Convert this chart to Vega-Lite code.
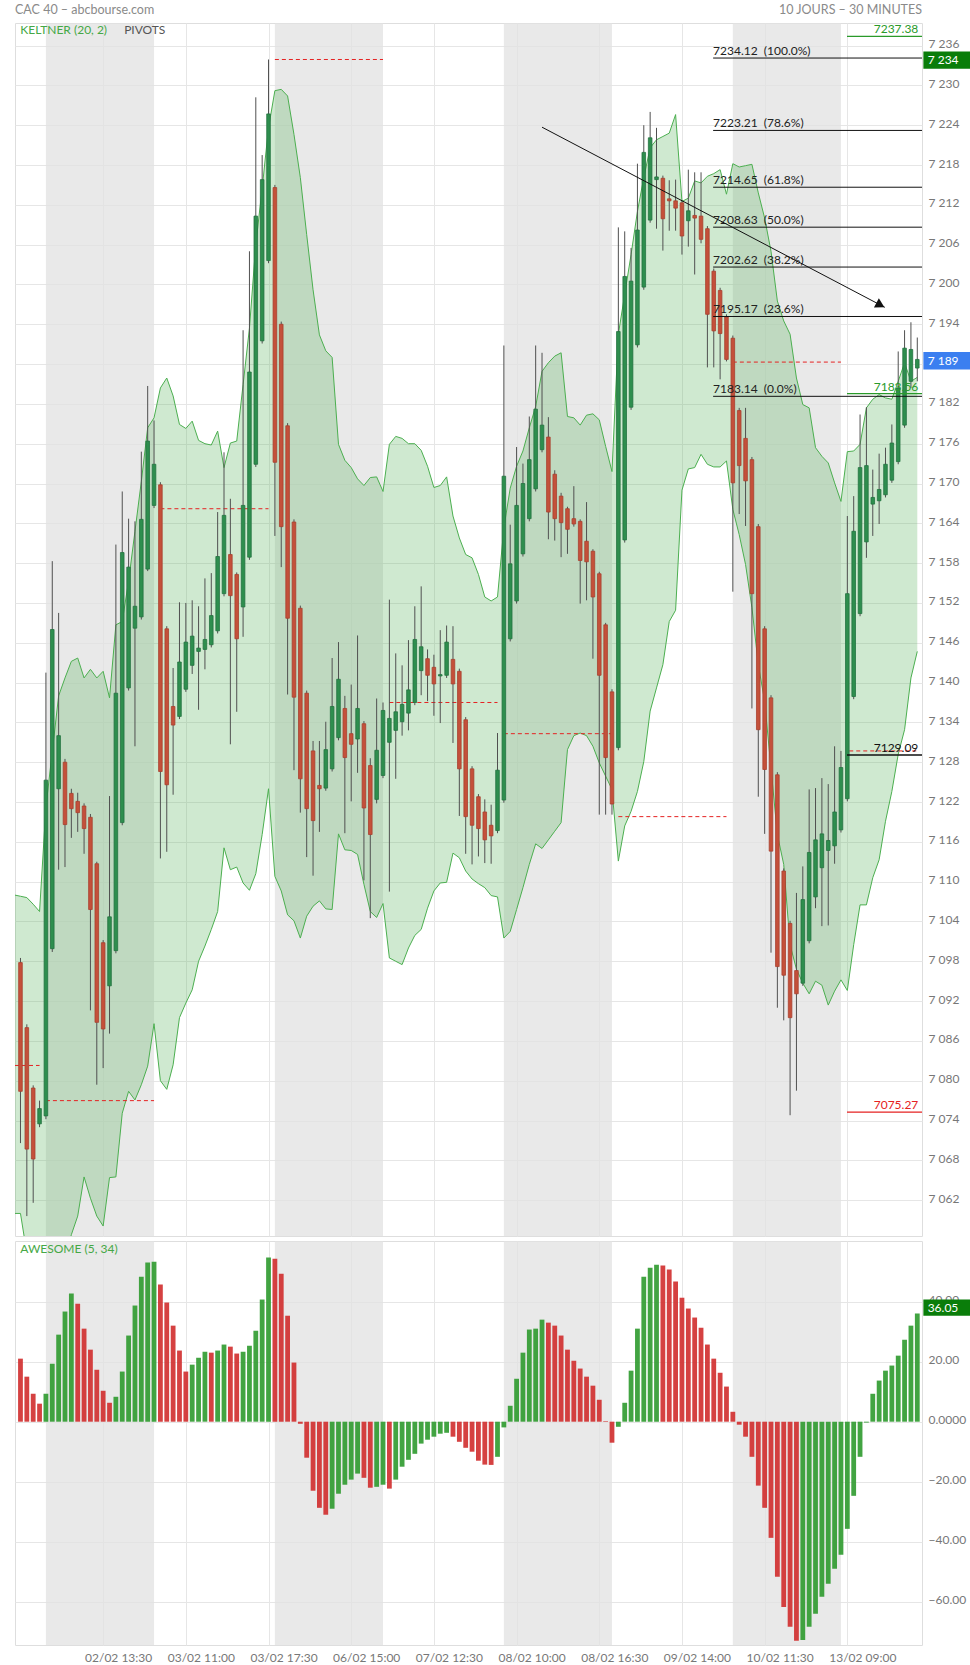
{
"$schema": "https://vega.github.io/schema/vega-lite/v6.json",
"background": "white",
"padding": {"left": 14, "top": 3, "right": 0, "bottom": 0},
"autosize": {"type": "pad"},
"spacing": 3,
"config": {
  "view": {"stroke": "#dedede"},
  "font": "Lato",
  "scale": {"continuousPadding": 0},
  "axis": {"labelFont": "Lato", "labelFontSize": 12, "labelColor": "#777777", "title": null, "ticks": false, "domain": false, "gridColor": "#e6e6e6", "gridWidth": 1, "labelOverlap": false, "labelBound": false, "labelFlush": false}
},
"datasets": {
  "days": [{"s":4,"e":21},{"s":40,"e":57},{"s":76,"e":93},{"s":112,"e":129}],
  "piv": [{"s":-0.86,"e":3,"v":7082.3},{"s":4,"e":21,"v":7077.0},{"s":22,"e":39,"v":7166.2},{"s":40,"e":57,"v":7233.9},{"s":58,"e":75,"v":7137.0},{"s":76,"e":93,"v":7132.3},{"s":94,"e":111,"v":7119.8},{"s":112,"e":129,"v":7188.3},{"s":130.3,"e":141.3,"v":7129.7}],
  "fib": [{"v":7234.12,"t":"7234.12\u00a0\u00a0(100.0%)"},{"v":7223.21,"t":"7223.21\u00a0\u00a0(78.6%)"},{"v":7214.65,"t":"7214.65\u00a0\u00a0(61.8%)"},{"v":7208.63,"t":"7208.63\u00a0\u00a0(50.0%)"},{"v":7202.62,"t":"7202.62\u00a0\u00a0(38.2%)"},{"v":7195.17,"t":"7195.17\u00a0\u00a0(23.6%)"},{"v":7183.14,"t":"7183.14\u00a0\u00a0(0.0%)"}],
  "lv": [{"v":7237.38,"t":"7237.38","k":"haut"},{"v":7183.56,"t":"7183.56","k":"haut"},{"v":7129.09,"t":"7129.09","k":"pivot"},{"v":7075.27,"t":"7075.27","k":"bas"}],
  "tag": [{"v":7233.8,"t":"7 234","k":"fib"},{"v":7188.5,"t":"7 189","k":"last"}],
  "arr": [{"i":82.0,"v":7223.7},{"i":135.9,"v":7196.55}],
  "k": [
{"i":-1,"u":7108,"l":7060},{"i":0,"u":7107.8,"l":7060.0},{"i":1,"u":7107.6,"l":7054},{"i":2,"u":7106.6,"l":7050},{"i":3,"u":7105.5,"l":7047},{"i":4,"u":7121.2,"l":7044},{"i":5,"u":7129.6,"l":7046},{"i":6,"u":7138.0,"l":7049},{"i":7,"u":7140.7,"l":7053},{"i":8,"u":7143.2,"l":7056.8},{"i":9,"u":7143.7,"l":7059.6},
{"i":10,"u":7140.7,"l":7065.5},{"i":11,"u":7142.0,"l":7062.3},{"i":12,"u":7140.7,"l":7059.6},{"i":13,"u":7141.7,"l":7058.1},{"i":14,"u":7137.7,"l":7065.4},{"i":15,"u":7148.7,"l":7065.5},{"i":16,"u":7149.2,"l":7075.1},{"i":17,"u":7155.3,"l":7078.4},{"i":18,"u":7162.8,"l":7077.1},{"i":19,"u":7170.3,"l":7079.4},
{"i":20,"u":7178.4,"l":7082.2},{"i":21,"u":7179.9,"l":7088.6},{"i":22,"u":7184.4,"l":7080.0},{"i":23,"u":7185.9,"l":7078.7},{"i":24,"u":7183.2,"l":7082.4},{"i":25,"u":7178.9,"l":7089.5},{"i":26,"u":7178.3,"l":7091.7},{"i":27,"u":7179.4,"l":7093.7},{"i":28,"u":7176.5,"l":7098.0},{"i":29,"u":7176.0,"l":7100.3},
{"i":30,"u":7175.8,"l":7102.8},{"i":31,"u":7177.9,"l":7105.5},{"i":32,"u":7172.4,"l":7115.1},{"i":33,"u":7176.1,"l":7111.8},{"i":34,"u":7176.4,"l":7112.2},{"i":35,"u":7184.9,"l":7109.8},{"i":36,"u":7193.4,"l":7108.7},{"i":37,"u":7206.0,"l":7111.2},{"i":38,"u":7214.5,"l":7117.1},{"i":39,"u":7223.6,"l":7124.0},
{"i":40,"u":7229.2,"l":7110.8},{"i":41,"u":7229.4,"l":7108.6},{"i":42,"u":7228.4,"l":7105.0},{"i":43,"u":7222.6,"l":7104.1},{"i":44,"u":7216.1,"l":7101.5},{"i":45,"u":7207.5,"l":7104.8},{"i":46,"u":7199.2,"l":7106.3},{"i":47,"u":7192.4,"l":7107.1},{"i":48,"u":7190.0,"l":7105.9},{"i":49,"u":7189.0,"l":7105.8},
{"i":50,"u":7175.9,"l":7117.2},{"i":51,"u":7173.5,"l":7114.8},{"i":52,"u":7172.4,"l":7114.7},{"i":53,"u":7170.7,"l":7114.1},{"i":54,"u":7169.7,"l":7109.6},{"i":55,"u":7170.9,"l":7105.5},{"i":56,"u":7171.0,"l":7104.6},{"i":57,"u":7168.8,"l":7106.7},{"i":58,"u":7175.9,"l":7098.5},{"i":59,"u":7177.1,"l":7098.0},
{"i":60,"u":7176.8,"l":7097.5},{"i":61,"u":7176.0,"l":7100.0},{"i":62,"u":7176.0,"l":7101.9},{"i":63,"u":7175.0,"l":7102.8},{"i":64,"u":7172.6,"l":7106.0},{"i":65,"u":7169.4,"l":7108.6},{"i":66,"u":7169.7,"l":7109.8},{"i":67,"u":7171.0,"l":7109.9},{"i":68,"u":7165.1,"l":7114.3},{"i":69,"u":7161.8,"l":7113.6},
{"i":70,"u":7159.3,"l":7111.6},{"i":71,"u":7158.8,"l":7110.4},{"i":72,"u":7156.3,"l":7109.7},{"i":73,"u":7152.9,"l":7109.1},{"i":74,"u":7152.3,"l":7107.9},{"i":75,"u":7152.9,"l":7107.7},{"i":76,"u":7163.3,"l":7101.5},{"i":77,"u":7169.3,"l":7102.5},{"i":78,"u":7172.6,"l":7105.8},{"i":79,"u":7174.9,"l":7109.1},
{"i":80,"u":7178.4,"l":7112.6},{"i":81,"u":7181.6,"l":7115.7},{"i":82,"u":7186.9,"l":7115.0},{"i":83,"u":7188.2,"l":7116.3},{"i":84,"u":7189.2,"l":7117.6},{"i":85,"u":7189.7,"l":7118.9},{"i":86,"u":7180.1,"l":7129.9},{"i":87,"u":7179.9,"l":7132.0},{"i":88,"u":7178.8,"l":7132.4},{"i":89,"u":7180.3,"l":7132.0},
{"i":90,"u":7180.5,"l":7130.4},{"i":91,"u":7179.6,"l":7127.9},{"i":92,"u":7175.6,"l":7125.9},{"i":93,"u":7171.8,"l":7123.9},{"i":94,"u":7192.5,"l":7113.1},{"i":95,"u":7198.5,"l":7118.4},{"i":96,"u":7204.5,"l":7120.6},{"i":97,"u":7211.0,"l":7123.6},{"i":98,"u":7216.1,"l":7128.1},{"i":99,"u":7220.6,"l":7135.7},
{"i":100,"u":7221.8,"l":7139.2},{"i":101,"u":7222.3,"l":7142.7},{"i":102,"u":7222.8,"l":7149.2},{"i":103,"u":7225.6,"l":7150.9},{"i":104,"u":7212.5,"l":7169.0},{"i":105,"u":7213.0,"l":7172.2},{"i":106,"u":7215.6,"l":7172.4},{"i":107,"u":7215.3,"l":7174.4},{"i":108,"u":7216.3,"l":7172.9},{"i":109,"u":7216.7,"l":7172.5},
{"i":110,"u":7217.3,"l":7172.5},{"i":111,"u":7213.6,"l":7173.4},{"i":112,"u":7218.2,"l":7166.1},{"i":113,"u":7217.7,"l":7162.3},{"i":114,"u":7217.9,"l":7157.8},{"i":115,"u":7218.1,"l":7151.3},{"i":116,"u":7213.8,"l":7142.7},{"i":117,"u":7210.0,"l":7137.2},{"i":118,"u":7205.0,"l":7127.1},{"i":119,"u":7197.5,"l":7117.1},
{"i":120,"u":7194.5,"l":7112.6},{"i":121,"u":7192.5,"l":7100.5},{"i":122,"u":7185.9,"l":7096.8},{"i":123,"u":7181.9,"l":7094.7},{"i":124,"u":7181.4,"l":7093.1},{"i":125,"u":7175.4,"l":7095.0},{"i":126,"u":7174.1,"l":7094.4},{"i":127,"u":7173.1,"l":7091.4},{"i":128,"u":7170.1,"l":7093.5},{"i":129,"u":7167.3,"l":7095.2},
{"i":130,"u":7174.8,"l":7093.6},{"i":131,"u":7174.9,"l":7100.5},{"i":132,"u":7175.9,"l":7106.5},{"i":133,"u":7181.4,"l":7106.5},{"i":134,"u":7182.7,"l":7110.6},{"i":135,"u":7183.4,"l":7113.3},{"i":136,"u":7182.9,"l":7119.1},{"i":137,"u":7182.7,"l":7123.6},{"i":138,"u":7185.4,"l":7129.2},{"i":139,"u":7188.2,"l":7132.9},
{"i":140,"u":7185.4,"l":7140.7},{"i":141,"u":7186.0,"l":7144.7}
  ],
  "c": [
{"i":0,"o":7097.8,"h":7098.5,"l":7070.6,"c":7078.4},{"i":1,"o":7088.0,"h":7088.5,"l":7059.6,"c":7069.7},{"i":2,"o":7078.9,"h":7079.3,"l":7061.6,"c":7068.2},{"i":3,"o":7073.5,"h":7077.0,"l":7073.0,"c":7075.8},{"i":4,"o":7074.7,"h":7141.5,"l":7074.2,"c":7125.3},
{"i":5,"o":7099.9,"h":7158.3,"l":7099.4,"c":7148.0},{"i":6,"o":7124.0,"h":7150.5,"l":7111.8,"c":7132.0},{"i":7,"o":7128.0,"h":7128.5,"l":7112.2,"c":7118.6},{"i":8,"o":7123.3,"h":7124.0,"l":7116.6,"c":7121.0},{"i":9,"o":7122.1,"h":7123.4,"l":7117.5,"c":7120.4},
{"i":10,"o":7121.4,"h":7121.8,"l":7114.2,"c":7118.0},{"i":11,"o":7119.7,"h":7120.2,"l":7090.6,"c":7105.8},{"i":12,"o":7112.7,"h":7113.0,"l":7079.4,"c":7088.8},{"i":13,"o":7100.8,"h":7101.2,"l":7081.9,"c":7087.8},{"i":14,"o":7094.3,"h":7122.9,"l":7087.1,"c":7104.7},
{"i":15,"o":7099.6,"h":7160.8,"l":7099.2,"c":7138.4},{"i":16,"o":7118.9,"h":7168.8,"l":7118.5,"c":7159.6},{"i":17,"o":7139.2,"h":7164.7,"l":7138.8,"c":7157.4},{"i":18,"o":7148.2,"h":7164.3,"l":7130.4,"c":7151.5},{"i":19,"o":7149.9,"h":7174.8,"l":7149.5,"c":7164.6},
{"i":20,"o":7157.1,"h":7184.7,"l":7156.8,"c":7176.4},{"i":21,"o":7166.7,"h":7179.5,"l":7166.3,"c":7172.9},{"i":22,"o":7169.8,"h":7170.2,"l":7113.5,"c":7126.6},{"i":23,"o":7148.1,"h":7148.5,"l":7114.5,"c":7124.6},{"i":24,"o":7136.4,"h":7142.2,"l":7123.1,"c":7133.6},
{"i":25,"o":7134.9,"h":7152.1,"l":7134.5,"c":7143.1},{"i":26,"o":7139.0,"h":7152.0,"l":7138.6,"c":7146.1},{"i":27,"o":7142.6,"h":7152.4,"l":7141.3,"c":7147.0},{"i":28,"o":7144.7,"h":7151.5,"l":7135.9,"c":7145.2},{"i":29,"o":7145.0,"h":7155.7,"l":7142.0,"c":7146.5},
{"i":30,"o":7145.7,"h":7156.5,"l":7145.3,"c":7150.1},{"i":31,"o":7147.8,"h":7165.7,"l":7147.4,"c":7159.0},{"i":32,"o":7153.4,"h":7174.7,"l":7153.0,"c":7165.2},{"i":33,"o":7159.3,"h":7167.7,"l":7130.7,"c":7153.1},{"i":34,"o":7156.3,"h":7156.6,"l":7135.6,"c":7146.6},
{"i":35,"o":7151.4,"h":7193.1,"l":7146.9,"c":7166.7},{"i":36,"o":7158.9,"h":7205.0,"l":7158.5,"c":7186.8},{"i":37,"o":7172.9,"h":7228.2,"l":7172.5,"c":7210.3},{"i":38,"o":7191.5,"h":7219.5,"l":7191.1,"c":7215.8},{"i":39,"o":7203.6,"h":7233.9,"l":7203.2,"c":7225.7},
{"i":40,"o":7214.6,"h":7215.0,"l":7162.1,"c":7173.2},{"i":41,"o":7194.0,"h":7194.4,"l":7157.4,"c":7163.5},{"i":42,"o":7178.7,"h":7179.1,"l":7138.2,"c":7149.7},{"i":43,"o":7164.2,"h":7164.6,"l":7126.8,"c":7137.8},{"i":44,"o":7151.2,"h":7151.6,"l":7120.4,"c":7125.5},
{"i":45,"o":7138.4,"h":7138.8,"l":7113.7,"c":7121.0},{"i":46,"o":7129.7,"h":7131.2,"l":7110.9,"c":7119.2},{"i":47,"o":7124.5,"h":7131.2,"l":7117.5,"c":7124.0},{"i":48,"o":7124.1,"h":7134.1,"l":7123.7,"c":7129.9},{"i":49,"o":7127.0,"h":7143.7,"l":7126.6,"c":7136.4},
{"i":50,"o":7131.7,"h":7146.1,"l":7131.3,"c":7140.5},{"i":51,"o":7136.1,"h":7138.0,"l":7117.3,"c":7128.7},{"i":52,"o":7132.3,"h":7139.7,"l":7122.1,"c":7130.7},{"i":53,"o":7131.5,"h":7147.1,"l":7126.4,"c":7136.1},{"i":54,"o":7133.8,"h":7134.2,"l":7110.2,"c":7121.1},
{"i":55,"o":7127.5,"h":7128.6,"l":7104.5,"c":7117.1},{"i":56,"o":7122.4,"h":7137.6,"l":7121.8,"c":7129.8},{"i":57,"o":7126.0,"h":7137.0,"l":7125.6,"c":7135.8},{"i":58,"o":7131.0,"h":7152.5,"l":7108.5,"c":7134.6},{"i":59,"o":7132.8,"h":7144.4,"l":7125.5,"c":7135.6},
{"i":60,"o":7134.1,"h":7142.6,"l":7132.0,"c":7136.7},{"i":61,"o":7135.4,"h":7146.4,"l":7132.8,"c":7138.9},{"i":62,"o":7137.0,"h":7151.5,"l":7136.6,"c":7146.5},{"i":63,"o":7141.8,"h":7154.5,"l":7138.1,"c":7145.4},{"i":64,"o":7143.6,"h":7145.0,"l":7137.2,"c":7141.1},
{"i":65,"o":7142.3,"h":7144.2,"l":7135.0,"c":7139.8},{"i":66,"o":7141.0,"h":7147.9,"l":7133.9,"c":7141.2},{"i":67,"o":7141.1,"h":7148.6,"l":7140.7,"c":7146.1},{"i":68,"o":7143.5,"h":7148.5,"l":7130.9,"c":7139.8},{"i":69,"o":7141.7,"h":7142.1,"l":7119.9,"c":7127.0},
{"i":70,"o":7134.4,"h":7134.8,"l":7114.2,"c":7119.8},{"i":71,"o":7127.0,"h":7127.4,"l":7112.6,"c":7118.5},{"i":72,"o":7122.8,"h":7123.2,"l":7113.8,"c":7118.0},{"i":73,"o":7120.5,"h":7122.4,"l":7112.8,"c":7116.3},{"i":74,"o":7118.5,"h":7121.6,"l":7112.7,"c":7116.9},
{"i":75,"o":7117.7,"h":7132.4,"l":7117.3,"c":7126.8},{"i":76,"o":7122.3,"h":7190.8,"l":7121.9,"c":7171.1},{"i":77,"o":7146.6,"h":7163.8,"l":7146.2,"c":7157.9},{"i":78,"o":7152.3,"h":7175.5,"l":7151.9,"c":7166.7},{"i":79,"o":7159.4,"h":7173.0,"l":7159.0,"c":7170.0},
{"i":80,"o":7164.7,"h":7180.1,"l":7164.3,"c":7173.6},{"i":81,"o":7169.2,"h":7190.8,"l":7168.8,"c":7181.2},{"i":82,"o":7175.1,"h":7189.7,"l":7174.7,"c":7178.8},{"i":83,"o":7177.0,"h":7180.0,"l":7161.6,"c":7165.7},{"i":84,"o":7171.4,"h":7172.0,"l":7161.4,"c":7164.7},
{"i":85,"o":7168.1,"h":7168.6,"l":7158.9,"c":7164.1},{"i":86,"o":7166.2,"h":7166.5,"l":7159.4,"c":7163.1},{"i":87,"o":7164.7,"h":7169.6,"l":7163.5,"c":7163.9},{"i":88,"o":7164.3,"h":7164.6,"l":7151.9,"c":7158.4},{"i":89,"o":7161.3,"h":7167.2,"l":7152.4,"c":7158.2},
{"i":90,"o":7159.8,"h":7160.1,"l":7143.6,"c":7152.9},{"i":91,"o":7156.4,"h":7156.7,"l":7120.1,"c":7141.1},{"i":92,"o":7148.7,"h":7149.0,"l":7120.1,"c":7128.7},{"i":93,"o":7138.6,"h":7139.0,"l":7120.1,"c":7121.7},{"i":94,"o":7130.2,"h":7208.6,"l":7129.8,"c":7192.9},
{"i":95,"o":7161.5,"h":7208.0,"l":7161.1,"c":7201.2},{"i":96,"o":7181.5,"h":7205.5,"l":7181.1,"c":7200.5},{"i":97,"o":7190.9,"h":7218.2,"l":7190.5,"c":7208.2},{"i":98,"o":7199.6,"h":7224.0,"l":7199.2,"c":7219.9},{"i":99,"o":7209.7,"h":7226.0,"l":7209.3,"c":7222.1},
{"i":100,"o":7215.8,"h":7223.6,"l":7208.4,"c":7216.2},{"i":101,"o":7216.0,"h":7216.4,"l":7205.1,"c":7209.9},{"i":102,"o":7212.9,"h":7215.7,"l":7208.1,"c":7212.6},{"i":103,"o":7212.6,"h":7215.8,"l":7208.1,"c":7211.5},{"i":104,"o":7212.3,"h":7212.7,"l":7204.5,"c":7207.3},
{"i":105,"o":7209.6,"h":7217.3,"l":7205.7,"c":7211.1},{"i":106,"o":7210.4,"h":7216.9,"l":7201.5,"c":7210.0},{"i":107,"o":7210.3,"h":7216.9,"l":7206.2,"c":7206.8},{"i":108,"o":7208.4,"h":7208.8,"l":7187.5,"c":7195.5},{"i":109,"o":7202.0,"h":7202.4,"l":7187.5,"c":7193.0},
{"i":110,"o":7199.1,"h":7199.5,"l":7185.7,"c":7192.6},{"i":111,"o":7195.1,"h":7195.5,"l":7188.4,"c":7188.7},{"i":112,"o":7191.9,"h":7192.3,"l":7153.7,"c":7170.1},{"i":113,"o":7181.0,"h":7181.4,"l":7165.4,"c":7172.7},{"i":114,"o":7176.8,"h":7181.4,"l":7163.6,"c":7170.4},
{"i":115,"o":7173.6,"h":7174.0,"l":7136.1,"c":7153.4},{"i":116,"o":7163.5,"h":7163.9,"l":7122.8,"c":7132.9},{"i":117,"o":7148.1,"h":7148.5,"l":7117.2,"c":7126.9},{"i":118,"o":7137.7,"h":7138.1,"l":7099.3,"c":7114.6},{"i":119,"o":7126.1,"h":7126.5,"l":7091.0,"c":7097.2},
{"i":120,"o":7111.6,"h":7112.0,"l":7089.1,"c":7095.9},{"i":121,"o":7103.7,"h":7104.1,"l":7074.8,"c":7089.5},{"i":122,"o":7096.6,"h":7108.3,"l":7078.5,"c":7093.1},{"i":123,"o":7094.7,"h":7112.3,"l":7094.3,"c":7107.3},{"i":124,"o":7101.1,"h":7123.9,"l":7100.7,"c":7114.4},
{"i":125,"o":7107.7,"h":7124.1,"l":7106.0,"c":7116.3},{"i":126,"o":7112.1,"h":7125.6,"l":7103.3,"c":7117.2},{"i":127,"o":7114.7,"h":7124.7,"l":7103.4,"c":7116.2},{"i":128,"o":7115.4,"h":7130.4,"l":7112.7,"c":7120.5},{"i":129,"o":7117.8,"h":7129.7,"l":7117.4,"c":7127.2},
{"i":130,"o":7122.5,"h":7165.1,"l":7122.1,"c":7153.4},{"i":131,"o":7137.9,"h":7168.1,"l":7137.5,"c":7162.8},{"i":132,"o":7150.4,"h":7180.4,"l":7150.0,"c":7172.4},{"i":133,"o":7161.2,"h":7181.5,"l":7158.8,"c":7172.7},{"i":134,"o":7166.9,"h":7172.1,"l":7162.1,"c":7167.9},
{"i":135,"o":7167.4,"h":7174.5,"l":7163.9,"c":7169.1},{"i":136,"o":7168.3,"h":7175.4,"l":7167.9,"c":7172.9},{"i":137,"o":7170.5,"h":7178.9,"l":7170.1,"c":7176.1},{"i":138,"o":7173.3,"h":7189.9,"l":7172.9,"c":7184.4},{"i":139,"o":7178.8,"h":7193.1,"l":7178.4,"c":7190.4},
{"i":140,"o":7185.4,"h":7194.3,"l":7184.4,"c":7190.2},{"i":141,"o":7187.4,"h":7192.0,"l":7185.4,"c":7188.7}
  ],
  "ao": [
{"i":0,"a":21.0},{"i":1,"a":15.0},{"i":2,"a":9.3},{"i":3,"a":6.0},{"i":4,"a":9.3},{"i":5,"a":19.3},{"i":6,"a":29.0},{"i":7,"a":36.7},{"i":8,"a":42.7},{"i":9,"a":39.3},
{"i":10,"a":31.0},{"i":11,"a":24.0},{"i":12,"a":17.3},{"i":13,"a":10.3},{"i":14,"a":6.3},{"i":15,"a":8.3},{"i":16,"a":16.7},{"i":17,"a":28.7},{"i":18,"a":38.7},{"i":19,"a":48.3},
{"i":20,"a":53.0},{"i":21,"a":53.3},{"i":22,"a":45.7},{"i":23,"a":39.7},{"i":24,"a":32.0},{"i":25,"a":23.7},{"i":26,"a":16.7},{"i":27,"a":19.0},{"i":28,"a":21.3},{"i":29,"a":23.3},
{"i":30,"a":23.0},{"i":31,"a":23.7},{"i":32,"a":25.7},{"i":33,"a":25.0},{"i":34,"a":22.7},{"i":35,"a":23.3},{"i":36,"a":25.3},{"i":37,"a":30.3},{"i":38,"a":40.7},{"i":39,"a":54.7},
{"i":40,"a":54.3},{"i":41,"a":49.3},{"i":42,"a":35.3},{"i":43,"a":19.7},{"i":44,"a":-0.7},{"i":45,"a":-12.0},{"i":46,"a":-23.0},{"i":47,"a":-28.7},{"i":48,"a":-31.0},{"i":49,"a":-29.0},
{"i":50,"a":-24.0},{"i":51,"a":-21.0},{"i":52,"a":-19.3},{"i":53,"a":-17.3},{"i":54,"a":-18.7},{"i":55,"a":-22.0},{"i":56,"a":-21.7},{"i":57,"a":-21.0},{"i":58,"a":-22.3},{"i":59,"a":-19.3},
{"i":60,"a":-15.0},{"i":61,"a":-12.7},{"i":62,"a":-10.7},{"i":63,"a":-7.3},{"i":64,"a":-6.0},{"i":65,"a":-5.0},{"i":66,"a":-4.0},{"i":67,"a":-3.7},{"i":68,"a":-5.0},{"i":69,"a":-6.7},
{"i":70,"a":-8.7},{"i":71,"a":-10.0},{"i":72,"a":-13.0},{"i":73,"a":-14.3},{"i":74,"a":-14.4},{"i":75,"a":-11.7},{"i":76,"a":-1.9},{"i":77,"a":5.3},{"i":78,"a":14.3},{"i":79,"a":23.0},
{"i":80,"a":30.7},{"i":81,"a":31.0},{"i":82,"a":34.0},{"i":83,"a":33.0},{"i":84,"a":32.0},{"i":85,"a":28.7},{"i":86,"a":24.0},{"i":87,"a":20.3},{"i":88,"a":17.7},{"i":89,"a":15.0},
{"i":90,"a":12.0},{"i":91,"a":7.3},{"i":92,"a":0.2},{"i":93,"a":-7.0},{"i":94,"a":-1.7},{"i":95,"a":6.3},{"i":96,"a":17.0},{"i":97,"a":31.0},{"i":98,"a":48.3},{"i":99,"a":51.3},
{"i":100,"a":52.3},{"i":101,"a":52.0},{"i":102,"a":50.7},{"i":103,"a":46.7},{"i":104,"a":41.3},{"i":105,"a":37.7},{"i":106,"a":34.7},{"i":107,"a":31.3},{"i":108,"a":25.7},{"i":109,"a":21.0},
{"i":110,"a":16.3},{"i":111,"a":11.7},{"i":112,"a":3.3},{"i":113,"a":-1.0},{"i":114,"a":-5.0},{"i":115,"a":-11.7},{"i":116,"a":-21.3},{"i":117,"a":-28.7},{"i":118,"a":-38.7},{"i":119,"a":-51.7},
{"i":120,"a":-61.7},{"i":121,"a":-68.3},{"i":122,"a":-73.0},{"i":123,"a":-72.7},{"i":124,"a":-68.3},{"i":125,"a":-64.0},{"i":126,"a":-58.3},{"i":127,"a":-54.0},{"i":128,"a":-49.0},{"i":129,"a":-44.3},
{"i":130,"a":-35.7},{"i":131,"a":-24.7},{"i":132,"a":-11.7},{"i":133,"a":-0.3},{"i":134,"a":9.3},{"i":135,"a":13.7},{"i":136,"a":17.0},{"i":137,"a":18.7},{"i":138,"a":22.0},{"i":139,"a":27.3},
{"i":140,"a":32.0},{"i":141,"a":36.05}
  ]
},
"vconcat": [
{
  "width": 907, "height": 1213,
  "resolve": {"scale": {"color": "independent"}},
  "layer": [
    {"data": {"name": "days"}, "mark": {"type": "rect", "color": "#e2e2e2", "opacity": 0.75},
     "encoding": {
       "x": {"field": "s", "type": "quantitative", "scale": {"domain": [-0.86, 141.74], "nice": false, "zero": false, "padding": 0},
             "axis": {"values": [13,26,39,52,65,78,91,104,117,130], "labels": false, "grid": true}},
       "x2": {"field": "e"}}},
    {"data": {"name": "k"}, "mark": {"type": "area", "color": "#4caf50", "opacity": 0.27, "clip": true},
     "encoding": {
       "x": {"field": "i", "type": "quantitative", "scale": {"domain": [-0.86, 141.74], "nice": false, "zero": false, "padding": 0}},
       "y": {"field": "u", "type": "quantitative", "scale": {"domain": [7056.6, 7239.4], "nice": false, "zero": false},
             "axis": {"orient": "right", "grid": true, "labelPadding": 6, "labelOffset": -2,
                      "values": [7062,7068,7074,7080,7086,7092,7098,7104,7110,7116,7122,7128,7134,7140,7146,7152,7158,7164,7170,7176,7182,7188,7194,7200,7206,7212,7218,7224,7230,7236],
                      "labelExpr": "datum.value == 7188 ? '' : replace(format(datum.value, ','), ',', ' ')"}},
       "y2": {"field": "l"}}},
    {"data": {"name": "k"}, "mark": {"type": "line", "color": "#4caf50", "strokeWidth": 1, "clip": true},
     "encoding": {"x": {"field": "i", "type": "quantitative", "scale": {"domain": [-0.86, 141.74], "nice": false, "zero": false, "padding": 0}},
                  "y": {"field": "u", "type": "quantitative", "scale": {"domain": [7056.6, 7239.4], "nice": false, "zero": false}}}},
    {"data": {"name": "k"}, "mark": {"type": "line", "color": "#4caf50", "strokeWidth": 1, "clip": true},
     "encoding": {"x": {"field": "i", "type": "quantitative", "scale": {"domain": [-0.86, 141.74], "nice": false, "zero": false, "padding": 0}},
                  "y": {"field": "l", "type": "quantitative", "scale": {"domain": [7056.6, 7239.4], "nice": false, "zero": false}}}},
    {"data": {"name": "piv"}, "mark": {"type": "rule", "color": "#e52222", "strokeWidth": 1, "strokeDash": [4, 3]},
     "encoding": {"x": {"field": "s", "type": "quantitative", "scale": {"domain": [-0.86, 141.74], "nice": false, "zero": false, "padding": 0}},
                  "x2": {"field": "e"},
                  "y": {"field": "v", "type": "quantitative", "scale": {"domain": [7056.6, 7239.4], "nice": false, "zero": false}}}},
    {"data": {"name": "c"}, "mark": {"type": "rule", "color": "#505050", "strokeWidth": 1},
     "encoding": {"x": {"field": "i", "type": "quantitative", "scale": {"domain": [-0.86, 141.74], "nice": false, "zero": false, "padding": 0}},
                  "y": {"field": "l", "type": "quantitative", "scale": {"domain": [7056.6, 7239.4], "nice": false, "zero": false}},
                  "y2": {"field": "h"}}},
    {"data": {"name": "c"}, "mark": {"type": "bar", "width": 3.6, "orient": "vertical", "strokeWidth": 0.8},
     "encoding": {"x": {"field": "i", "type": "quantitative", "scale": {"domain": [-0.86, 141.74], "nice": false, "zero": false, "padding": 0}},
                  "y": {"field": "o", "type": "quantitative", "scale": {"domain": [7056.6, 7239.4], "nice": false, "zero": false}},
                  "y2": {"field": "c"},
                  "fill": {"condition": {"test": "datum.c >= datum.o", "value": "#2e8e4e"}, "value": "#c4503a"},
                  "stroke": {"condition": {"test": "datum.c >= datum.o", "value": "#237240"}, "value": "#a8402e"}}},
    {"data": {"name": "fib"}, "mark": {"type": "rule", "color": "#111111", "strokeWidth": 1},
     "encoding": {"x": {"datum": 108.9, "type": "quantitative", "scale": {"domain": [-0.86, 141.74], "nice": false, "zero": false, "padding": 0}},
                  "x2": {"datum": 141.74},
                  "y": {"field": "v", "type": "quantitative", "scale": {"domain": [7056.6, 7239.4], "nice": false, "zero": false}}}},
    {"data": {"name": "fib"}, "mark": {"type": "text", "align": "left", "baseline": "alphabetic", "dy": -3, "fontSize": 12, "color": "#222222", "font": "Lato"},
     "encoding": {"x": {"datum": 108.9, "type": "quantitative", "scale": {"domain": [-0.86, 141.74], "nice": false, "zero": false, "padding": 0}},
                  "y": {"field": "v", "type": "quantitative", "scale": {"domain": [7056.6, 7239.4], "nice": false, "zero": false}},
                  "text": {"field": "t"}}},
    {"data": {"name": "arr"}, "mark": {"type": "line", "color": "#111111", "strokeWidth": 1},
     "encoding": {"x": {"field": "i", "type": "quantitative", "scale": {"domain": [-0.86, 141.74], "nice": false, "zero": false, "padding": 0}},
                  "y": {"field": "v", "type": "quantitative", "scale": {"domain": [7056.6, 7239.4], "nice": false, "zero": false}}}},
    {"data": {"values": [{"n": "arrow"}]}, "mark": {"type": "point", "shape": "triangle-right", "angle": 28, "size": 110, "filled": true, "color": "#111111", "opacity": 1},
     "encoding": {"x": {"datum": 135.2, "type": "quantitative", "scale": {"domain": [-0.86, 141.74], "nice": false, "zero": false, "padding": 0}},
                  "y": {"datum": 7196.9, "type": "quantitative", "scale": {"domain": [7056.6, 7239.4], "nice": false, "zero": false}}}},
    {"data": {"name": "lv"}, "mark": {"type": "rule", "strokeWidth": 1.3},
     "encoding": {"x": {"datum": 129.95, "type": "quantitative", "scale": {"domain": [-0.86, 141.74], "nice": false, "zero": false, "padding": 0}},
                  "x2": {"datum": 141.74},
                  "y": {"field": "v", "type": "quantitative", "scale": {"domain": [7056.6, 7239.4], "nice": false, "zero": false}},
                  "color": {"field": "k", "type": "nominal", "scale": {"domain": ["haut", "pivot", "bas"], "range": ["#2a9a2a", "#111111", "#e52222"]}, "legend": null}}},
    {"data": {"name": "lv"}, "mark": {"type": "text", "align": "right", "baseline": "alphabetic", "dy": -3, "fontSize": 12, "font": "Lato"},
     "encoding": {"x": {"datum": 141.16, "type": "quantitative", "scale": {"domain": [-0.86, 141.74], "nice": false, "zero": false, "padding": 0}},
                  "y": {"field": "v", "type": "quantitative", "scale": {"domain": [7056.6, 7239.4], "nice": false, "zero": false}},
                  "text": {"field": "t"},
                  "color": {"field": "k", "type": "nominal", "scale": {"domain": ["haut", "pivot", "bas"], "range": ["#2a9a2a", "#111111", "#e52222"]}, "legend": null}}},
    {"data": {"name": "tag"}, "mark": {"type": "point", "shape": "M-1,-0.36L1,-0.36L1,0.36L-1,0.36Z", "size": 2304, "filled": true, "opacity": 1, "clip": false},
     "encoding": {"x": {"datum": 145.73, "type": "quantitative", "scale": {"domain": [-0.86, 141.74], "nice": false, "zero": false, "padding": 0}},
                  "y": {"field": "v", "type": "quantitative", "scale": {"domain": [7056.6, 7239.4], "nice": false, "zero": false}},
                  "fill": {"field": "k", "type": "nominal", "scale": {"domain": ["fib", "last"], "range": ["#0a7d0a", "#3b7ff0"]}, "legend": null}}},
    {"data": {"name": "tag"}, "mark": {"type": "text", "align": "left", "baseline": "middle", "fontSize": 12, "color": "white", "font": "Lato"},
     "encoding": {"x": {"datum": 142.63, "type": "quantitative", "scale": {"domain": [-0.86, 141.74], "nice": false, "zero": false, "padding": 0}},
                  "y": {"field": "v", "type": "quantitative", "scale": {"domain": [7056.6, 7239.4], "nice": false, "zero": false}},
                  "text": {"field": "t"}}},
    {"data": {"values": [{"t": "KELTNER (20, 2)"}]}, "mark": {"type": "text", "align": "left", "baseline": "middle", "fontSize": 12, "color": "#45a845", "font": "Lato"},
     "encoding": {"x": {"datum": -0.03, "type": "quantitative", "scale": {"domain": [-0.86, 141.74], "nice": false, "zero": false, "padding": 0}},
                  "y": {"datum": 7238.3, "type": "quantitative", "scale": {"domain": [7056.6, 7239.4], "nice": false, "zero": false}},
                  "text": {"field": "t"}}},
    {"data": {"values": [{"t": "PIVOTS"}]}, "mark": {"type": "text", "align": "left", "baseline": "middle", "fontSize": 12, "color": "#555555", "font": "Lato"},
     "encoding": {"x": {"datum": 16.3, "type": "quantitative", "scale": {"domain": [-0.86, 141.74], "nice": false, "zero": false, "padding": 0}},
                  "y": {"datum": 7238.3, "type": "quantitative", "scale": {"domain": [7056.6, 7239.4], "nice": false, "zero": false}},
                  "text": {"field": "t"}}},
    {"data": {"values": [{"t": "CAC 40 – abcbourse.com"}]}, "mark": {"type": "text", "align": "left", "baseline": "middle", "fontSize": 12.5, "color": "#8a8a8a", "font": "Lato"},
     "encoding": {"x": {"datum": -0.86, "type": "quantitative", "scale": {"domain": [-0.86, 141.74], "nice": false, "zero": false, "padding": 0}},
                  "y": {"datum": 7241.3, "type": "quantitative", "scale": {"domain": [7056.6, 7239.4], "nice": false, "zero": false}},
                  "text": {"field": "t"}}},
    {"data": {"values": [{"t": "10 JOURS – 30 MINUTES"}]}, "mark": {"type": "text", "align": "right", "baseline": "middle", "fontSize": 12.5, "color": "#8a8a8a", "font": "Lato"},
     "encoding": {"x": {"datum": 141.74, "type": "quantitative", "scale": {"domain": [-0.86, 141.74], "nice": false, "zero": false, "padding": 0}},
                  "y": {"datum": 7241.3, "type": "quantitative", "scale": {"domain": [7056.6, 7239.4], "nice": false, "zero": false}},
                  "text": {"field": "t"}}}
  ]
},
{
  "width": 907, "height": 404,
  "layer": [
    {"data": {"name": "days"}, "mark": {"type": "rect", "color": "#e2e2e2", "opacity": 0.75},
     "encoding": {
       "x": {"field": "s", "type": "quantitative", "scale": {"domain": [-0.86, 141.74], "nice": false, "zero": false, "padding": 0},
             "axis": {"values": [13,26,39,52,65,78,91,104,117,130], "grid": true, "labelOffset": 15, "labelPadding": 7,
                      "labelExpr": "datum.value==13?'02/02 13:30':datum.value==26?'03/02 11:00':datum.value==39?'03/02 17:30':datum.value==52?'06/02 15:00':datum.value==65?'07/02 12:30':datum.value==78?'08/02 10:00':datum.value==91?'08/02 16:30':datum.value==104?'09/02 14:00':datum.value==117?'10/02 11:30':'13/02 09:00'"}},
       "x2": {"field": "e"}}},
    {"data": {"name": "ao"},
     "transform": [{"window": [{"op": "lag", "field": "a", "as": "p"}], "sort": [{"field": "i"}]}],
     "mark": {"type": "bar", "width": 4.8, "orient": "vertical", "opacity": 0.9},
     "encoding": {"x": {"field": "i", "type": "quantitative", "scale": {"domain": [-0.86, 141.74], "nice": false, "zero": false, "padding": 0}},
                  "y": {"field": "a", "type": "quantitative", "scale": {"domain": [-74.4, 60.2], "nice": false, "zero": false},
                        "axis": {"orient": "right", "grid": true, "labelPadding": 6, "labelOffset": -2, "values": [-60, -40, -20, 0, 20, 40],
                                 "labelExpr": "datum.value == 0 ? '0.0000' : format(datum.value, '.2f')"}},
                  "y2": {"datum": 0},
                  "color": {"condition": {"test": "datum.p != null && datum.a >= datum.p", "value": "#2e9a2e"}, "value": "#d02c2c"}}},
    {"data": {"values": [{"t": "36.05"}]}, "mark": {"type": "point", "shape": "M-1,-0.34L1,-0.34L1,0.34L-1,0.34Z", "size": 2304, "filled": true, "opacity": 1, "color": "#0a7d0a", "clip": false},
     "encoding": {"x": {"datum": 145.73, "type": "quantitative", "scale": {"domain": [-0.86, 141.74], "nice": false, "zero": false, "padding": 0}},
                  "y": {"datum": 38.0, "type": "quantitative", "scale": {"domain": [-74.4, 60.2], "nice": false, "zero": false}}}},
    {"data": {"values": [{"t": "36.05"}]}, "mark": {"type": "text", "align": "left", "baseline": "middle", "fontSize": 12, "color": "white", "font": "Lato"},
     "encoding": {"x": {"datum": 142.63, "type": "quantitative", "scale": {"domain": [-0.86, 141.74], "nice": false, "zero": false, "padding": 0}},
                  "y": {"datum": 38.0, "type": "quantitative", "scale": {"domain": [-74.4, 60.2], "nice": false, "zero": false}},
                  "text": {"field": "t"}}},
    {"data": {"values": [{"t": "AWESOME (5, 34)"}]}, "mark": {"type": "text", "align": "left", "baseline": "middle", "fontSize": 12, "color": "#45a845", "font": "Lato"},
     "encoding": {"x": {"datum": -0.03, "type": "quantitative", "scale": {"domain": [-0.86, 141.74], "nice": false, "zero": false, "padding": 0}},
                  "y": {"datum": 57.4, "type": "quantitative", "scale": {"domain": [-74.4, 60.2], "nice": false, "zero": false}},
                  "text": {"field": "t"}}}
  ]
}
]
}
